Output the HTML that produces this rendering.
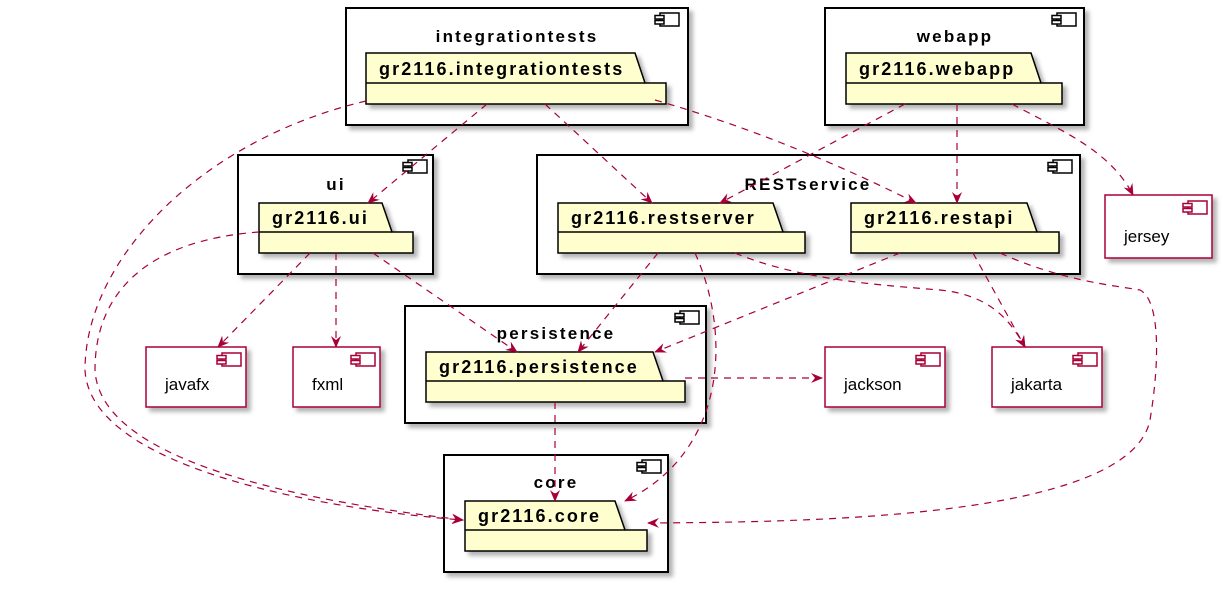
<!DOCTYPE html>
<html><head><meta charset="utf-8"><style>
html,body{margin:0;padding:0;background:#fff;}
svg{display:block;font-family:"Liberation Sans",sans-serif;}
.t{font-weight:bold;font-size:17px;letter-spacing:2.2px;text-anchor:middle;}
.p{font-weight:bold;font-size:18px;letter-spacing:2.1px;}
.l{font-size:17px;}
.a{fill:none;stroke:#A80036;stroke-width:1.2;stroke-dasharray:7,6;}
</style></head><body>
<svg width="1223" height="591" viewBox="0 0 1223 591">
<defs>
<filter id="sh" x="-10%" y="-10%" width="130%" height="140%"><feDropShadow dx="4" dy="4" stdDeviation="2" flood-color="#000" flood-opacity="0.3"/></filter>
<marker id="ar" viewBox="0 0 12 10" refX="11" refY="5" markerWidth="12" markerHeight="10" orient="auto" markerUnits="userSpaceOnUse"><path d="M0,0 L12,5 L0,10 L4,5 z" fill="#A80036"/></marker>
<g id="ic"><rect x="5" y="0" width="19" height="13" fill="none" stroke-width="1.5"/><rect x="0" y="2.5" width="9" height="3.5" fill="#fff" stroke-width="1.5"/><rect x="0" y="7.5" width="9" height="3.5" fill="#fff" stroke-width="1.5"/></g>
</defs>

<g stroke="#000" stroke-width="2" fill="#fff" filter="url(#sh)">
<rect x="346" y="8" width="342" height="117"/>
<rect x="825" y="8" width="259" height="117"/>
<rect x="238" y="155" width="195" height="119"/>
<rect x="537" y="155" width="543" height="119"/>
<rect x="405" y="306" width="301" height="117"/>
<rect x="444" y="455" width="224" height="117"/>
</g>
<g stroke="#000">
<use href="#ic" x="655" y="13"/><use href="#ic" x="1052" y="13"/><use href="#ic" x="403" y="160"/>
<use href="#ic" x="1048" y="160"/><use href="#ic" x="675" y="311"/><use href="#ic" x="637" y="460"/>
</g>
<text class="t" x="517" y="42">integrationtests</text>
<text class="t" x="955" y="42">webapp</text>
<text class="t" x="336" y="190">ui</text>
<text class="t" x="808" y="190">RESTservice</text>
<text class="t" x="556" y="339">persistence</text>
<text class="t" x="556" y="488">core</text>

<g stroke="#000" stroke-width="1.5" fill="#FEFECE" filter="url(#sh)">
<path d="M366,53 H635 L645,83 H666 V104 H366 Z"/>
<path d="M846,53 H1031 L1041,83 H1062 V104 H846 Z"/>
<path d="M259,203 H382 L392,232 H413 V253 H259 Z"/>
<path d="M558,203 H773 L783,232 H805 V253 H558 Z"/>
<path d="M851,203 H1027 L1037,232 H1059 V253 H851 Z"/>
<path d="M426,352 H653 L663,381 H685 V402 H426 Z"/>
<path d="M465,501 H615 L625,530 H647 V551 H465 Z"/>
</g>
<g stroke="#000" stroke-width="1.5">
<line x1="366" y1="83" x2="645" y2="83"/><line x1="846" y1="83" x2="1041" y2="83"/>
<line x1="259" y1="232" x2="392" y2="232"/><line x1="558" y1="232" x2="783" y2="232"/>
<line x1="851" y1="232" x2="1037" y2="232"/><line x1="426" y1="381" x2="663" y2="381"/>
<line x1="465" y1="530" x2="625" y2="530"/>
</g>
<text class="p" x="379" y="75">gr2116.integrationtests</text>
<text class="p" x="859" y="75">gr2116.webapp</text>
<text class="p" x="272" y="224">gr2116.ui</text>
<text class="p" x="571" y="224">gr2116.restserver</text>
<text class="p" x="864" y="224">gr2116.restapi</text>
<text class="p" x="439" y="373">gr2116.persistence</text>
<text class="p" x="478" y="522">gr2116.core</text>

<g stroke="#A80036" stroke-width="1.5" fill="#fff" filter="url(#sh)">
<rect x="146" y="347" width="100" height="60"/>
<rect x="293" y="347" width="87" height="60"/>
<rect x="825" y="347" width="120" height="60"/>
<rect x="992" y="347" width="110" height="60"/>
<rect x="1105" y="195" width="107" height="63"/>
</g>
<g stroke="#A80036">
<use href="#ic" x="217" y="353"/><use href="#ic" x="351" y="353"/><use href="#ic" x="916" y="353"/>
<use href="#ic" x="1073" y="353"/><use href="#ic" x="1183" y="201"/>
</g>
<text class="l" x="165" y="390">javafx</text>
<text class="l" x="312" y="390">fxml</text>
<text class="l" x="844" y="390">jackson</text>
<text class="l" x="1011" y="390">jakarta</text>
<text class="l" x="1124" y="242">jersey</text>

<g class="a" marker-end="url(#ar)">
<path d="M366,101 C200,140 85,260 85,370 C90,470 330,510 463,520"/>
<path d="M487,104 L368,203"/>
<path d="M545,104 L652,203"/>
<path d="M655,100 C760,130 850,170 916,203"/>
<path d="M905,104 L720,203"/>
<path d="M957,104 L957,203"/>
<path d="M1012,104 C1060,130 1110,150 1133,195"/>
<path d="M259,232 C150,240 95,290 95,370 C100,470 340,505 463,520"/>
<path d="M310,253 L218,347"/>
<path d="M336,253 L336,347"/>
<path d="M373,253 L517,352"/>
<path d="M658,253 L578,352"/>
<path d="M695,253 C730,330 730,450 625,501"/>
<path d="M735,253 C800,280 880,285 940,290 C990,295 1010,320 1025,347"/>
<path d="M900,253 L655,352"/>
<path d="M973,253 L1025,347"/>
<path d="M1000,253 C1060,280 1110,285 1140,290 C1160,300 1160,360 1150,420 C1130,520 800,522 648,523"/>
<path d="M685,378 L822,378"/>
<path d="M555,402 L555,501"/>
</g>
</svg>
</body></html>
